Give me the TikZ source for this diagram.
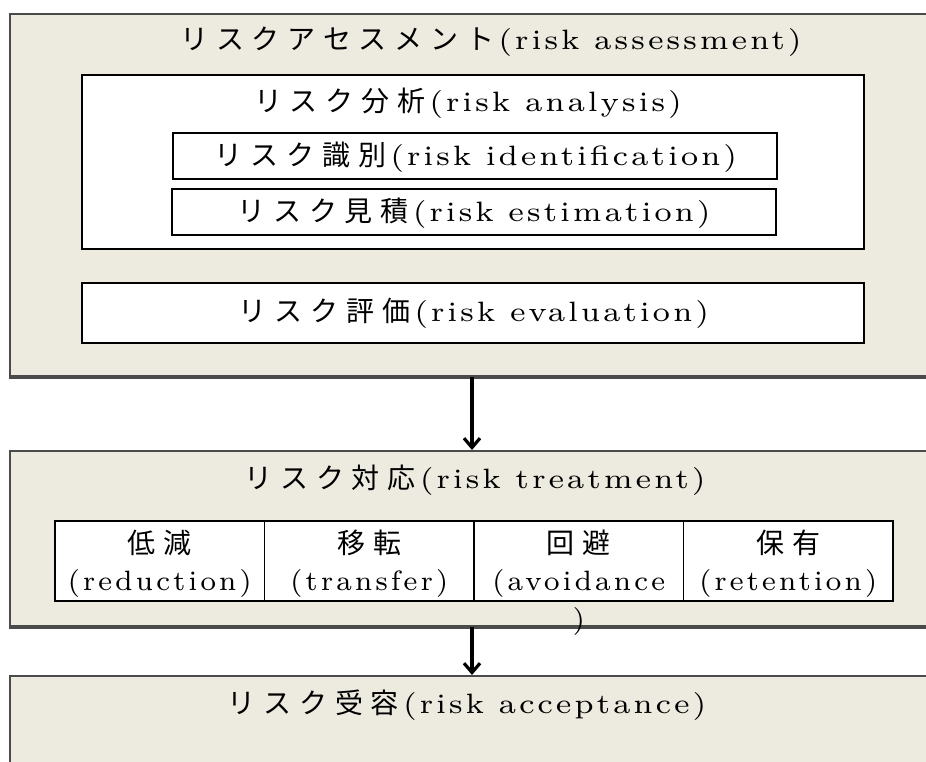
\documentclass[tikz,border=0pt]{standalone}
\usepackage{fontspec}
\setmainfont{lmroman7-regular.otf}[FakeStretch=1.1,LetterSpace=10]
\newfontfamily\cellfont{lmroman7-regular.otf}[LetterSpace=10]
\newfontfamily\jpfont{Noto Sans CJK JP}[LetterSpace=28]
\newcommand\jtext[1]{{\jpfont #1}\hspace{3pt}}
\usetikzlibrary{arrows.meta,fit}

\definecolor{panelfill}{RGB}{237,235,224}
\definecolor{panelline}{RGB}{75,75,75}

\tikzset{
  panel/.style={draw=panelline, fill=panelfill, line width=1.5pt, inner sep=0pt},
  inbox/.style={draw=black, fill=white, line width=1.2pt, inner sep=0pt},
  label/.style={inner sep=0pt},
}

\begin{document}
\begin{tikzpicture}
  [x=0.75pt, y=0.75pt, >={Straight Barb[length=7pt,width=12pt,line width=2.4pt]}, font=\fontsize{21}{28}\selectfont]
  \useasboundingbox (0,0) rectangle (926,-762);

  % assessment panel
  \node [panel, fit={(10,-14) (934,-376)}] (assess) {};
  \draw [panelline, line width=2.5pt] (assess.south west) -- (assess.south east);
  \node [label] (assessT) at (491,-42) {\jtext{リスクアセスメント}(risk assessment)};

  \node [inbox, fit={(82,-75) (864,-249)}] (analysis) {};
  \node [label] (analysisT) at (468,-103) {\jtext{リスク分析}(risk analysis)};
  \node [inbox, fit={(173,-133) (777,-179)}] (ident) {};
  \node [label] (identT) at (476,-157) {\jtext{リスク識別}(risk identification)};
  \node [inbox, fit={(172,-189) (776,-235)}] (estim) {};
  \node [label] (estimT) at (474,-213) {\jtext{リスク見積}(risk estimation)};

  \node [inbox, fit={(82,-283) (864,-343)}] (evalu) {};
  \node [label] (evaluT) at (474,-313) {\jtext{リスク評価}(risk evaluation)};

  % treatment panel
  \node [panel, fit={(10,-451) (934,-626)}] (treat) {};
  \draw [panelline, line width=2.5pt] (treat.south west) -- (treat.south east);
  \node [label] (treatT) at (475,-480) {\jtext{リスク対応}(risk treatment)};

  \foreach \jname/\ename [count=\i] in {低減/(reduction), 移転/(transfer), 回避/{(avoidance\\)}, 保有/(retention)} {
    \pgfmathsetmacro\cx{55+(\i-1)*209.5}
    \node [inbox, line width=1.1pt, fit={(\cx,-521) (\cx+209.5,-601)}] (cell\i) {};
    \node [label, anchor=north, align=center, font=\fontsize{21}{28}\cellfont] (cellT\i) at ([yshift=-7pt]cell\i.north) {{\jpfont\jname}\\\ename};
  }

  % acceptance panel
  \node [panel, fit={(10,-676) (934,-800)}] (accept) {};
  \node [label] (acceptT) at (467,-705) {\jtext{リスク受容}(risk acceptance)};

  \draw [->, line width=2.4pt] (assess.south) -- (treat.north);
  \draw [->, line width=2.4pt] (treat.south) -- (accept.north);
\end{tikzpicture}
\end{document}
